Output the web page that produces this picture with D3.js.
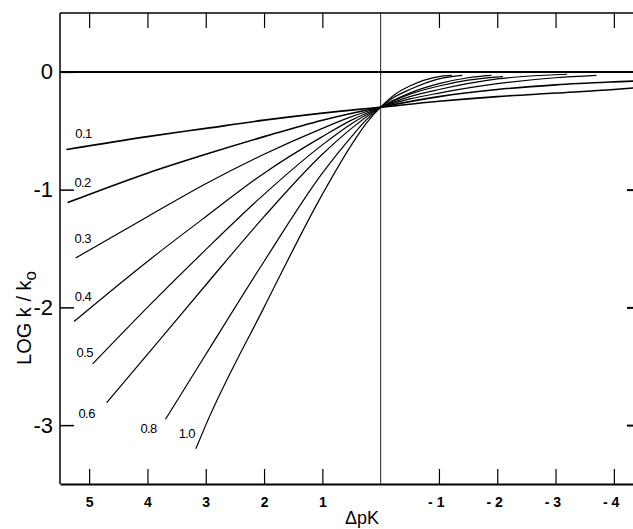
<!DOCTYPE html>
<html>
<head>
<meta charset="utf-8">
<script src="https://cdn.jsdelivr.net/npm/d3@7"></script>
<style>
  body { margin: 0; background: #fff; }
  svg { display: block; }
</style>
</head>
<body>
<svg width="633" height="529"></svg>
<script>
// curve parameters (labels on the left-hand ends)
const alphas = ["0.1", "0.2", "0.3", "0.4", "0.5", "0.6", "0.8", "1.0"];

// each curve: [ΔpK, log k/k0], from left to right
const c01 = [[5.39, -0.66], [4, -0.55], [3, -0.48], [2, -0.41], [1, -0.35], [0, -0.30], [-1, -0.25], [-2, -0.21], [-3, -0.18], [-4, -0.15], [-4.5, -0.13]];
const c02 = [[5.37, -1.11], [4, -0.86], [3, -0.70], [2, -0.55], [1, -0.41], [0, -0.30], [-1, -0.21], [-2, -0.15], [-3, -0.11], [-4, -0.085], [-4.5, -0.075]];
const c03 = [[5.23, -1.58], [4, -1.23], [3, -0.95], [2, -0.70], [1, -0.48], [0.5, -0.38], [0, -0.30], [-0.5, -0.23], [-1, -0.18], [-2, -0.10], [-3, -0.05], [-3.7, -0.03]];
const c04 = [[5.26, -2.12], [4, -1.61], [3, -1.23], [2, -0.86], [1, -0.55], [0.5, -0.41], [0, -0.30], [-0.5, -0.21], [-1, -0.15], [-2, -0.06], [-3.2, -0.02]];
const c05 = [[4.94, -2.48], [4, -2.00], [3, -1.51], [2, -1.04], [1, -0.62], [0.5, -0.44], [0, -0.30], [-0.5, -0.19], [-1, -0.12], [-1.5, -0.07], [-2.1, -0.04]];
const c06 = [[4.70, -2.81], [4, -2.40], [3, -1.81], [2, -1.23], [1, -0.70], [0.5, -0.48], [0, -0.30], [-0.5, -0.18], [-1, -0.10], [-1.5, -0.05], [-1.9, -0.03]];
const c08 = [[3.69, -2.95], [3, -2.40], [2, -1.61], [1, -0.86], [0.5, -0.55], [0.25, -0.41], [0, -0.30], [-0.25, -0.21], [-0.5, -0.15], [-1, -0.06], [-1.4, -0.03]];
const c10 = [[3.17, -3.20], [3, -3.00], [2, -2.00], [1, -1.04], [0.5, -0.62], [0.25, -0.44], [0, -0.30], [-0.25, -0.19], [-0.5, -0.12], [-1, -0.04], [-1.22, -0.03]];
const curves = [c01, c02, c03, c04, c05, c06, c08, c10];

const xTicks = [5, 4, 3, 2, 1, -1, -2, -3, -4];
const xTopTicks = [5, 4, 3, 2, 1, -1, -2, -3, -4];
const yTicks = [0, -1, -2, -3];

// label placement relative to the left end of each curve (pixels)
const labelOffsets = [[17, -16], [15, -20], [7, -19], [9, -25], [-8, -11], [-20, 11], [-17, 9], [-9, -15]];

const svg = d3.select("svg");
const mLeft = 60, mRight = 643, mTop = 13, mBottom = 484;

const x = d3.scaleLinear().domain([5.5, -4.5]).range([mLeft, mRight]);
const y = d3.scaleLinear().domain([-3.5, 0.5]).range([mBottom, mTop]);

const font = "'Liberation Sans', Arial, sans-serif";

// frame: left and top lines
svg.append("line").attr("x1", mLeft).attr("x2", mLeft).attr("y1", mTop).attr("y2", mBottom)
    .attr("stroke", "#000").attr("stroke-width", 1.5);
svg.append("line").attr("x1", mLeft).attr("x2", mRight).attr("y1", mTop).attr("y2", mTop)
    .attr("stroke", "#000").attr("stroke-width", 1.5);

// bottom axis
const xAxis = svg.append("g").attr("transform", `translate(0,${mBottom})`)
    .call(d3.axisBottom(x).tickValues(xTicks).tickSizeInner(-15).tickSizeOuter(0).tickPadding(13)
        .tickFormat(d => d < 0 ? "- " + (-d) : d));
xAxis.select(".domain").attr("stroke-width", 2);
xAxis.selectAll(".tick line").attr("stroke-width", 1.2);
xAxis.selectAll(".tick text")
    .attr("font-family", font).attr("font-size", 14).attr("font-weight", "bold").attr("fill", "#000")
    .attr("text-anchor", d => d < 0 ? "end" : "middle")
    .attr("dx", d => d < 0 ? 5 : 0);

// top ticks
const topAxis = svg.append("g").attr("transform", `translate(0,${mTop})`)
    .call(d3.axisTop(x).tickValues(xTopTicks).tickSizeInner(-15).tickSizeOuter(0).tickFormat(""));
topAxis.select(".domain").remove();
topAxis.selectAll(".tick line").attr("stroke-width", 1.2);

// left axis
const yAxis = svg.append("g").attr("transform", `translate(${mLeft},0)`)
    .call(d3.axisLeft(y).tickValues(yTicks).tickSizeInner(-14).tickSizeOuter(0).tickPadding(7)
        .tickFormat(d => d === 0 ? "0" : "-" + (-d)));
yAxis.select(".domain").remove();
yAxis.selectAll(".tick line").attr("stroke-width", 1.5);
yAxis.selectAll(".tick text")
    .attr("font-family", font).attr("font-size", 22).attr("fill", "#000");

// right ticks (axis itself is just off the page)
const rAxis = svg.append("g").attr("transform", `translate(${mRight},0)`)
    .call(d3.axisRight(y).tickValues(yTicks.slice(1)).tickSizeInner(-16).tickSizeOuter(0).tickFormat(""));
rAxis.select(".domain").remove();
rAxis.selectAll(".tick line").attr("stroke-width", 2);

// reference lines
svg.append("line").attr("x1", x(0)).attr("x2", x(0)).attr("y1", mTop).attr("y2", mBottom)
    .attr("stroke", "#222").attr("stroke-width", 1);
svg.append("line").attr("x1", mLeft).attr("x2", mRight).attr("y1", y(0)).attr("y2", y(0))
    .attr("stroke", "#000").attr("stroke-width", 2);

// curves
const line = d3.line()
    .x(d => x(d[0]))
    .y(d => y(d[1]))
    .curve(d3.curveMonotoneX);

svg.append("g").selectAll("path")
    .data(curves)
    .join("path")
    .attr("d", line)
    .attr("fill", "none")
    .attr("stroke", "#000")
    .attr("stroke-width", (d, i) => i < 2 ? 1.6 : 1.2);

// curve labels
svg.append("g").selectAll("text")
    .data(alphas)
    .join("text")
    .attr("x", (d, i) => x(curves[i][0][0]) + labelOffsets[i][0])
    .attr("y", (d, i) => y(curves[i][0][1]) + labelOffsets[i][1])
    .attr("dy", "0.35em")
    .attr("text-anchor", "middle")
    .attr("font-family", font)
    .attr("font-size", 13)
    .attr("letter-spacing", -0.6)
    .text(d => d);

// axis titles
const yTitle = svg.append("text")
    .attr("transform", "translate(31,318) rotate(-90)")
    .attr("text-anchor", "middle")
    .attr("font-family", font)
    .attr("font-size", 20);
yTitle.append("tspan").text("LOG k / k");
yTitle.append("tspan").attr("font-size", 17).attr("dy", 5).text("o");

svg.append("text")
    .attr("x", 362).attr("y", 524)
    .attr("text-anchor", "middle")
    .attr("font-family", font)
    .attr("font-size", 18)
    .text("ΔpK");
</script>
</body>
</html>
